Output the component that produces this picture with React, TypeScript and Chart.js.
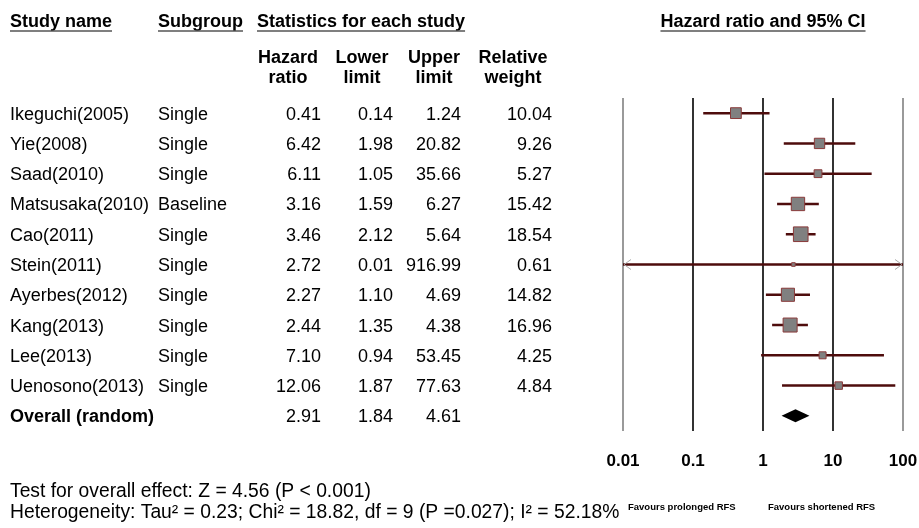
import React, { useEffect, useRef } from "react";
import { Chart, registerables } from "chart.js";

Chart.register(...registerables);

// ---- data ----
const studyNames = [
  "Ikeguchi(2005)",
  "Yie(2008)",
  "Saad(2010)",
  "Matsusaka(2010)",
  "Cao(2011)",
  "Stein(2011)",
  "Ayerbes(2012)",
  "Kang(2013)",
  "Lee(2013)",
  "Uenosono(2013)",
];
const subgroups = ["Single", "Single", "Single", "Baseline", "Single", "Single", "Single", "Single", "Single", "Single"];
const hazardRatios = [0.41, 6.42, 6.11, 3.16, 3.46, 2.72, 2.27, 2.44, 7.1, 12.06];
const lowerLimits = [0.14, 1.98, 1.05, 1.59, 2.12, 0.01, 1.1, 1.35, 0.94, 1.87];
const upperLimits = [1.24, 20.82, 35.66, 6.27, 5.64, 916.99, 4.69, 4.38, 53.45, 77.63];
const relativeWeights = [10.04, 9.26, 5.27, 15.42, 18.54, 0.61, 14.82, 16.96, 4.25, 4.84];

const overallLabel = "Overall (random)";
const overallHR = 2.91;
const overallLower = 1.84;
const overallUpper = 4.61;

const tickValues = [0.01, 0.1, 1, 10, 100];
const tickLabels = ["0.01", "0.1", "1", "10", "100"];

const headerStudy = "Study name";
const headerSubgroup = "Subgroup";
const headerStats = "Statistics for each study";
const headerPlot = "Hazard ratio and 95% CI";
const columnHeaders = [
  ["Hazard", "ratio"],
  ["Lower", "limit"],
  ["Upper", "limit"],
  ["Relative", "weight"],
];
const footLine1 = "Test for overall effect: Z = 4.56 (P < 0.001)";
const footLine2 = "Heterogeneity: Tau\u00b2 = 0.23; Chi\u00b2 = 18.82, df = 9 (P =0.027); I\u00b2 = 52.18%";
const favoursLeft = "Favours prolonged RFS";
const favoursRight = "Favours shortened RFS";

const FONT = '"Liberation Sans", Arial, sans-serif';
const LINE_COLOR = "#4e0c0c";

export default function App() {
  const canvasRef = useRef<HTMLCanvasElement | null>(null);

  useEffect(() => {
    const canvas = canvasRef.current;
    if (!canvas) return;

    const n = studyNames.length;
    const ciData: any[] = [];
    for (let i = 0; i < n; i++) {
      ciData.push({ x: lowerLimits[i], y: i });
      ciData.push({ x: upperLimits[i], y: i });
      ciData.push({ x: upperLimits[i], y: null });
    }
    const squareData = hazardRatios.map((v, i) => ({ x: v, y: i }));
    const squareRadius = relativeWeights.map((w) => Math.max(3.6, 3.4 * Math.sqrt(w)) / Math.SQRT2);

    const tablePlugin = {
      id: "forestTable",
      afterDraw(chart: any) {
        const ctx = chart.ctx as CanvasRenderingContext2D;
        const yS = chart.scales.y;
        const xS = chart.scales.x;
        const area = chart.chartArea;
        ctx.save();
        ctx.fillStyle = "#000";

        // headers
        ctx.font = `bold 18px ${FONT}`;
        ctx.textBaseline = "alphabetic";
        const drawUnderlined = (text: string, x: number, align: CanvasTextAlign) => {
          ctx.textAlign = align;
          ctx.fillText(text, x, 27);
          const w = ctx.measureText(text).width;
          const x0 = align === "center" ? x - w / 2 : x;
          ctx.save();
          ctx.strokeStyle = "#555";
          ctx.lineWidth = 1.5;
          ctx.beginPath();
          ctx.moveTo(x0, 31);
          ctx.lineTo(x0 + w, 31);
          ctx.stroke();
          ctx.restore();
        };
        drawUnderlined(headerStudy, 10, "left");
        drawUnderlined(headerSubgroup, 158, "left");
        drawUnderlined(headerStats, 257, "left");
        drawUnderlined(headerPlot, (area.left + area.right) / 2, "center");

        const colCenters = [288, 362, 434, 513];
        const colRights = [321, 393, 461, 552];
        ctx.textAlign = "center";
        columnHeaders.forEach((lines, c) => {
          ctx.fillText(lines[0], colCenters[c], 63);
          ctx.fillText(lines[1], colCenters[c], 83);
        });

        // rows
        ctx.font = `18px ${FONT}`;
        for (let i = 0; i < n; i++) {
          const y = yS.getPixelForValue(i) + 6.5;
          ctx.textAlign = "left";
          ctx.fillText(studyNames[i], 10, y);
          ctx.fillText(subgroups[i], 158, y);
          ctx.textAlign = "right";
          ctx.fillText(hazardRatios[i].toFixed(2), colRights[0], y);
          ctx.fillText(lowerLimits[i].toFixed(2), colRights[1], y);
          ctx.fillText(upperLimits[i].toFixed(2), colRights[2], y);
          ctx.fillText(relativeWeights[i].toFixed(2), colRights[3], y);
        }
        const yo = yS.getPixelForValue(n) + 6.5;
        ctx.font = `bold 18px ${FONT}`;
        ctx.textAlign = "left";
        ctx.fillText(overallLabel, 10, yo);
        ctx.font = `18px ${FONT}`;
        ctx.textAlign = "right";
        ctx.fillText(overallHR.toFixed(2), colRights[0], yo);
        ctx.fillText(overallLower.toFixed(2), colRights[1], yo);
        ctx.fillText(overallUpper.toFixed(2), colRights[2], yo);

        // footer
        ctx.font = `19.3px ${FONT}`;
        ctx.textAlign = "left";
        ctx.fillText(footLine1, 10, 497);
        ctx.fillText(footLine2, 10, 518);
        ctx.font = `bold 9.5px ${FONT}`;
        ctx.fillText(favoursLeft, 628, 510);
        ctx.fillText(favoursRight, 768, 510);

        // overall diamond
        const yc = yS.getPixelForValue(n);
        const xl = xS.getPixelForValue(overallLower);
        const xm = xS.getPixelForValue(overallHR);
        const xr = xS.getPixelForValue(overallUpper);
        ctx.fillStyle = "#000";
        ctx.beginPath();
        ctx.moveTo(xl, yc);
        ctx.lineTo(xm, yc - 6.5);
        ctx.lineTo(xr, yc);
        ctx.lineTo(xm, yc + 6.5);
        ctx.closePath();
        ctx.fill();

        // arrows for clipped intervals
        ctx.strokeStyle = "#aaa";
        ctx.lineWidth = 1;
        for (let i = 0; i < n; i++) {
          const y = yS.getPixelForValue(i);
          if (lowerLimits[i] <= xS.min) {
            ctx.beginPath();
            ctx.moveTo(area.left + 8, y - 5);
            ctx.lineTo(area.left + 1, y);
            ctx.lineTo(area.left + 8, y + 5);
            ctx.stroke();
          }
          if (upperLimits[i] >= xS.max) {
            ctx.beginPath();
            ctx.moveTo(area.right - 8, y - 5);
            ctx.lineTo(area.right - 1, y);
            ctx.lineTo(area.right - 8, y + 5);
            ctx.stroke();
          }
        }
        ctx.restore();
      },
    };

    const chart = new Chart(canvas, {
      type: "scatter",
      data: {
        datasets: [
          {
            type: "line",
            label: "CI",
            data: ciData,
            borderColor: LINE_COLOR,
            borderWidth: 2.5,
            pointRadius: 0,
            spanGaps: false,
            order: 2,
          } as any,
          {
            type: "scatter",
            label: "HR",
            data: squareData,
            pointStyle: "rect",
            pointRadius: squareRadius,
            backgroundColor: "#808080",
            borderColor: "#8a3a3a",
            borderWidth: 1,
            order: 1,
          } as any,
        ],
      },
      options: {
        responsive: false,
        animation: false,
        events: [],
        layout: { padding: { top: 98, left: 623, right: 16, bottom: 0 } },
        plugins: { legend: { display: false }, tooltip: { enabled: false } },
        scales: {
          x: {
            type: "logarithmic",
            min: 0.01,
            max: 100,
            position: "bottom",
            afterBuildTicks: (s: any) => {
              s.ticks = tickValues.map((v) => ({ value: v }));
            },
            afterFit: (s: any) => {
              s.height = 97;
              s.paddingLeft = 0;
              s.paddingRight = 0;
            },
            grid: {
              color: (c: any) =>
                c.tick && (c.tick.value === tickValues[0] || c.tick.value === tickValues[tickValues.length - 1])
                  ? "#9a9a9a"
                  : "#333",
              lineWidth: 2,
              drawTicks: false,
            },
            border: { display: false },
            ticks: {
              autoSkip: false,
              maxRotation: 0,
              padding: 20,
              color: "#000",
              font: { family: FONT, size: 17, weight: "bold" },
              callback: (_v: any, i: number) => tickLabels[i],
            },
          },
          y: {
            type: "linear",
            min: -0.5,
            max: studyNames.length + 0.5,
            reverse: true,
            display: false,
          },
        },
      } as any,
      plugins: [tablePlugin],
    });

    return () => {
      chart.destroy();
    };
  }, []);

  return (
    <div style={{ position: "absolute", left: 0, top: 0, width: 919, height: 528, background: "#fff" }}>
      <canvas ref={canvasRef} width={919} height={528} />
    </div>
  );
}
